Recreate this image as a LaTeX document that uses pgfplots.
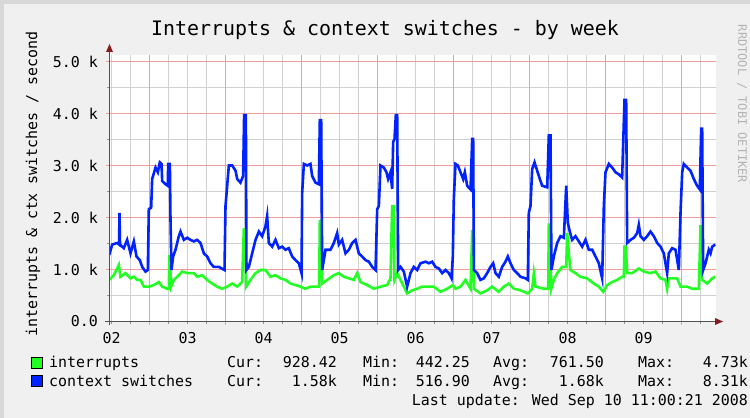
\documentclass[border=0pt]{standalone}
\usepackage{pgfplots}
\pgfplotsset{compat=1.18}
\usepackage{pgfplotstable}
\usepackage{fontspec}
\setmainfont{DejaVu Sans Mono}
\definecolor{bgc}{HTML}{F0F0F0}
\definecolor{shadec}{HTML}{D8D8D8}
\definecolor{mgrid}{HTML}{F09C9C}
\definecolor{ngrid}{HTML}{D0D0D0}
\definecolor{irqgreen}{HTML}{22FF22}
\definecolor{ctxblue}{HTML}{0022FF}
\definecolor{axisc}{HTML}{505050}
\definecolor{arrowc}{HTML}{8B1A1A}
\definecolor{wmark}{HTML}{B4B4B4}

\pgfplotstableread{
d v
0.47 1.28
0.509 1.48
0.575 1.51
0.600 1.48
0.605 2.09
0.612 1.48
0.662 1.41
0.706 1.57
0.750 1.31
0.794 1.54
0.829 1.25
0.873 1.18
0.904 1.05
0.947 0.96
0.978 0.99
0.991 2.16
1.022 2.19
1.035 2.74
1.079 2.96
1.110 2.87
1.136 3.06
1.158 3.03
1.167 2.70
1.211 2.64
1.240 2.61
1.246 3.03
1.268 3.03
1.276 1.99
1.289 0.99
1.311 1.25
1.342 1.38
1.386 1.64
1.408 1.73
1.452 1.57
1.496 1.61
1.539 1.57
1.583 1.54
1.627 1.57
1.671 1.51
1.715 1.31
1.759 1.25
1.803 1.12
1.846 1.05
1.912 1.05
1.987 0.99
2.000 2.22
2.044 3.00
2.088 3.00
2.132 2.90
2.154 2.74
2.197 2.67
2.232 2.80
2.245 3.97
2.268 3.97
2.276 0.99
2.307 1.05
2.351 1.31
2.395 1.57
2.439 1.73
2.482 1.64
2.526 1.83
2.548 2.03
2.570 1.51
2.614 1.44
2.658 1.57
2.702 1.41
2.746 1.44
2.789 1.38
2.833 1.41
2.877 1.25
2.921 1.18
2.965 1.12
3.000 0.93
3.009 2.48
3.031 3.03
3.075 3.00
3.118 3.03
3.140 2.80
3.184 2.67
3.228 2.64
3.241 3.87
3.259 3.87
3.272 0.99
3.316 1.38
3.382 1.38
3.425 1.51
3.469 1.70
3.491 1.48
3.535 1.57
3.579 1.31
3.623 1.38
3.667 1.51
3.711 1.57
3.754 1.31
3.798 1.25
3.842 1.18
3.886 1.15
3.930 1.05
3.974 0.99
3.996 2.16
4.018 2.22
4.039 3.00
4.083 2.96
4.118 2.87
4.140 2.74
4.171 2.87
4.193 2.55
4.206 3.45
4.224 3.51
4.241 3.97
4.259 3.97
4.272 0.99
4.303 1.05
4.346 0.96
4.390 0.67
4.434 0.93
4.478 1.05
4.522 0.99
4.566 1.12
4.632 1.15
4.675 1.12
4.719 1.15
4.763 1.05
4.807 1.02
4.851 0.93
4.895 0.99
4.939 0.93
4.974 0.83
4.991 1.25
5.004 2.35
5.026 3.03
5.057 3.00
5.092 2.87
5.127 2.74
5.149 2.87
5.180 2.61
5.224 2.54
5.246 3.51
5.259 3.51
5.268 0.99
5.311 0.93
5.355 0.80
5.399 0.83
5.443 0.93
5.487 1.05
5.522 1.12
5.553 0.93
5.596 0.86
5.640 1.05
5.684 1.15
5.715 1.25
5.750 1.12
5.794 0.99
5.838 0.93
5.882 0.86
5.947 0.83
5.978 0.80
5.991 2.09
6.013 2.22
6.035 2.93
6.066 3.06
6.101 2.90
6.136 2.74
6.167 2.61
6.233 2.58
6.254 3.58
6.276 3.58
6.289 0.99
6.320 1.25
6.364 1.51
6.408 1.64
6.452 1.61
6.483 2.61
6.504 1.90
6.530 1.73
6.561 1.57
6.605 1.64
6.649 1.54
6.693 1.44
6.737 1.57
6.781 1.38
6.825 1.38
6.868 1.25
6.912 1.12
6.956 0.83
6.978 2.22
7.000 2.87
7.044 3.03
7.088 2.96
7.132 2.87
7.175 2.83
7.219 2.77
7.250 4.26
7.272 4.26
7.285 1.51
7.329 1.57
7.373 1.61
7.417 1.70
7.438 1.86
7.461 1.64
7.504 1.57
7.548 1.64
7.592 1.73
7.636 1.64
7.680 1.51
7.724 1.44
7.767 1.31
7.811 0.93
7.833 1.31
7.877 1.41
7.921 1.38
7.965 0.99
7.987 2.09
8.009 2.87
8.030 3.03
8.075 2.96
8.118 2.90
8.162 2.74
8.206 2.61
8.241 2.54
8.259 3.71
8.272 3.71
8.285 0.99
8.316 1.12
8.359 1.38
8.382 1.31
8.404 1.44
8.445 1.48
}\ctxdata

\pgfplotstableread{
d v
0.47 0.80
0.531 0.89
0.597 1.09
0.618 0.86
0.684 0.93
0.750 0.83
0.794 0.86
0.838 0.80
0.882 0.80
0.925 0.67
0.991 0.67
1.057 0.70
1.123 0.76
1.167 0.67
1.232 0.63
1.254 0.63
1.263 1.28
1.276 0.93
1.285 0.67
1.320 0.80
1.386 0.89
1.430 0.96
1.496 0.93
1.583 0.93
1.627 0.86
1.693 0.89
1.759 0.80
1.825 0.73
1.890 0.67
1.956 0.63
2.022 0.67
2.088 0.73
2.154 0.67
2.219 0.76
2.241 1.77
2.254 1.77
2.272 0.67
2.329 0.80
2.395 0.93
2.461 0.99
2.526 0.99
2.592 0.86
2.658 0.89
2.724 0.83
2.789 0.80
2.855 0.73
2.921 0.70
2.987 0.67
3.053 0.63
3.118 0.67
3.184 0.67
3.232 0.67
3.241 1.93
3.254 1.93
3.272 0.73
3.338 0.80
3.425 0.89
3.491 0.93
3.557 0.86
3.623 0.83
3.689 0.80
3.733 0.93
3.776 0.76
3.864 0.70
3.952 0.63
4.039 0.67
4.127 0.70
4.171 0.83
4.193 2.22
4.211 2.22
4.224 0.80
4.259 0.93
4.303 0.80
4.346 0.67
4.390 0.54
4.456 0.60
4.522 0.63
4.588 0.67
4.654 0.67
4.741 0.67
4.829 0.57
4.917 0.63
4.991 0.70
5.026 0.63
5.092 0.67
5.158 0.80
5.224 0.63
5.246 1.73
5.259 1.73
5.268 0.63
5.355 0.54
5.443 0.60
5.509 0.67
5.596 0.57
5.662 0.67
5.728 0.73
5.794 0.63
5.882 0.60
5.978 0.54
6.035 0.63
6.057 0.93
6.079 0.67
6.189 0.63
6.246 0.63
6.254 1.86
6.272 1.86
6.285 0.63
6.320 0.80
6.364 0.93
6.430 1.05
6.483 1.05
6.496 1.70
6.518 1.31
6.539 0.99
6.605 0.93
6.671 0.86
6.759 0.83
6.846 0.73
6.912 0.67
6.970 0.57
7.022 0.70
7.088 0.76
7.154 0.80
7.219 0.86
7.241 0.86
7.250 1.44
7.268 1.44
7.285 0.93
7.351 0.93
7.438 1.02
7.504 0.96
7.592 0.93
7.658 0.96
7.724 0.83
7.789 0.80
7.811 0.63
7.833 0.83
7.943 0.83
7.987 0.67
8.075 0.67
8.141 0.63
8.228 0.63
8.250 1.83
8.263 1.83
8.272 0.80
8.338 0.73
8.404 0.83
8.445 0.86
}\irqdata

\newcommand{\sm}{\fontsize{15}{18}\selectfont}

\begin{document}
\begin{tikzpicture}
\fill[bgc] (0,0) rectangle (750bp,418bp);
\fill[shadec] (0,414bp) rectangle (750bp,418bp);
\fill[shadec] (0,0) rectangle (4bp,418bp);
% canvas
\fill[white] (109.5bp,96.5bp) rectangle (715.5bp,363bp);
% minor grid, 6 h apart (x = 73.5bp + 76bp per day)
\foreach \gx in {111.5,130.5,168.5,187.5,206.5,244.5,263.5,282.5,320.5,339.5,358.5,396.5,415.5,434.5,472.5,491.5,510.5,548.5,567.5,586.5,624.5,643.5,662.5,700.5}{
  \draw[ngrid, line width=1.3bp] (\gx bp,96.5bp) -- (\gx bp,363bp);
  \draw[ngrid!70!black, line width=1.3bp] (\gx bp,96.5bp) -- (\gx bp,93.5bp);
}
% minor grid, 0.5 k apart (y = 96.5bp + 52bp per k)
\foreach \gy in {122.5,174.5,226.5,278.5,330.5}{
  \draw[ngrid, line width=1.3bp] (109.5bp,\gy bp) -- (715.5bp,\gy bp);
  \draw[ngrid!70!black, line width=1.3bp] (109.5bp,\gy bp) -- (106.5bp,\gy bp);
}
% major grid, days
\foreach \gx in {149.5,225.5,301.5,377.5,453.5,529.5,605.5,681.5}{
  \draw[mgrid, line width=1.3bp] (\gx bp,96.5bp) -- (\gx bp,363bp);
  \draw[mgrid, line width=1.3bp] (\gx bp,96.5bp) -- (\gx bp,92.5bp);
}
% major grid, 1 k
\foreach \gy in {148.5,200.5,252.5,304.5,356.5}{
  \draw[mgrid, line width=1.3bp] (109.5bp,\gy bp) -- (715.5bp,\gy bp);
  \draw[mgrid, line width=1.3bp] (109.5bp,\gy bp) -- (105.5bp,\gy bp);
}
\begin{axis}[
  at={(109.5bp,96.5bp)}, anchor=south west,
  scale only axis, width=606bp, height=266.5bp,
  xmin=0.47368, xmax=8.44737, ymin=0, ymax=5.125,
  axis line style={draw=none},
  xtick={0.5,1.5,2.5,3.5,4.5,5.5,6.5,7.5},
  xticklabels={02,03,04,05,06,07,08,09},
  ytick={0,1,2,3,4,5},
  yticklabels={0.0,1.0 k,2.0 k,3.0 k,4.0 k,5.0 k},
  tick pos=left,
  major tick length=0pt,
  tick label style={font=\sm, text=black},
  yticklabel style={xshift=-8bp},
  xticklabel style={yshift=-7bp},
]
\addplot[irqgreen, line width=2.6bp] table[x=d, y=v] {\irqdata};
\addplot[ctxblue, line width=2.6bp] table[x=d, y=v] {\ctxdata};
\end{axis}
% axes with arrows
\draw[axisc, line width=1bp] (109.5bp,93bp) -- (109.5bp,368bp);
\draw[axisc, line width=1bp] (105bp,96.5bp) -- (716bp,96.5bp);
\fill[arrowc] (109.5bp,374bp) -- (106bp,366bp) -- (113bp,366bp) -- cycle;
\fill[arrowc] (723bp,96.5bp) -- (715bp,93bp) -- (715bp,100bp) -- cycle;
% title and labels
\node[font=\fontsize{20}{24}\selectfont] at (385bp,388bp) {Interrupts \& context switches - by week};
\node[font=\sm, rotate=90] at (33bp,234bp) {interrupts \& ctx switches / second};
\node[font=\fontsize{12}{14}\selectfont, text=wmark, rotate=-90] at (742bp,314bp) {RRDTOOL / TOBI OETIKER};
% legend
\node[draw=black, fill=irqgreen, line width=0.8bp, minimum size=11bp, inner sep=0pt] at (36.5bp,55bp) {};
\node[draw=black, fill=ctxblue, line width=0.8bp, minimum size=11bp, inner sep=0pt] at (36.5bp,37bp) {};
\begin{scope}[every node/.style={font=\sm, inner sep=0pt}]
\node[anchor=base west] at (49bp,50bp) {interrupts};
\node[anchor=base west] at (227bp,50bp) {Cur:};
\node[anchor=base east] at (337bp,50bp) {928.42};
\node[anchor=base west] at (363bp,50bp) {Min:};
\node[anchor=base east] at (470bp,50bp) {442.25};
\node[anchor=base west] at (493bp,50bp) {Avg:};
\node[anchor=base east] at (604bp,50bp) {761.50};
\node[anchor=base west] at (638bp,50bp) {Max:};
\node[anchor=base east] at (748bp,50bp) {4.73k};
\node[anchor=base west] at (49bp,32bp) {context switches};
\node[anchor=base west] at (227bp,32bp) {Cur:};
\node[anchor=base east] at (337bp,32bp) {1.58k};
\node[anchor=base west] at (363bp,32bp) {Min:};
\node[anchor=base east] at (470bp,32bp) {516.90};
\node[anchor=base west] at (493bp,32bp) {Avg:};
\node[anchor=base east] at (604bp,32bp) {1.68k};
\node[anchor=base west] at (638bp,32bp) {Max:};
\node[anchor=base east] at (748bp,32bp) {8.31k};
\node[anchor=base east] at (748bp,13bp) {Last update: Wed Sep 10 11:00:21 2008};
\end{scope}
\pgfresetboundingbox
\useasboundingbox (0,0) rectangle (750bp,418bp);
\end{tikzpicture}
\end{document}
